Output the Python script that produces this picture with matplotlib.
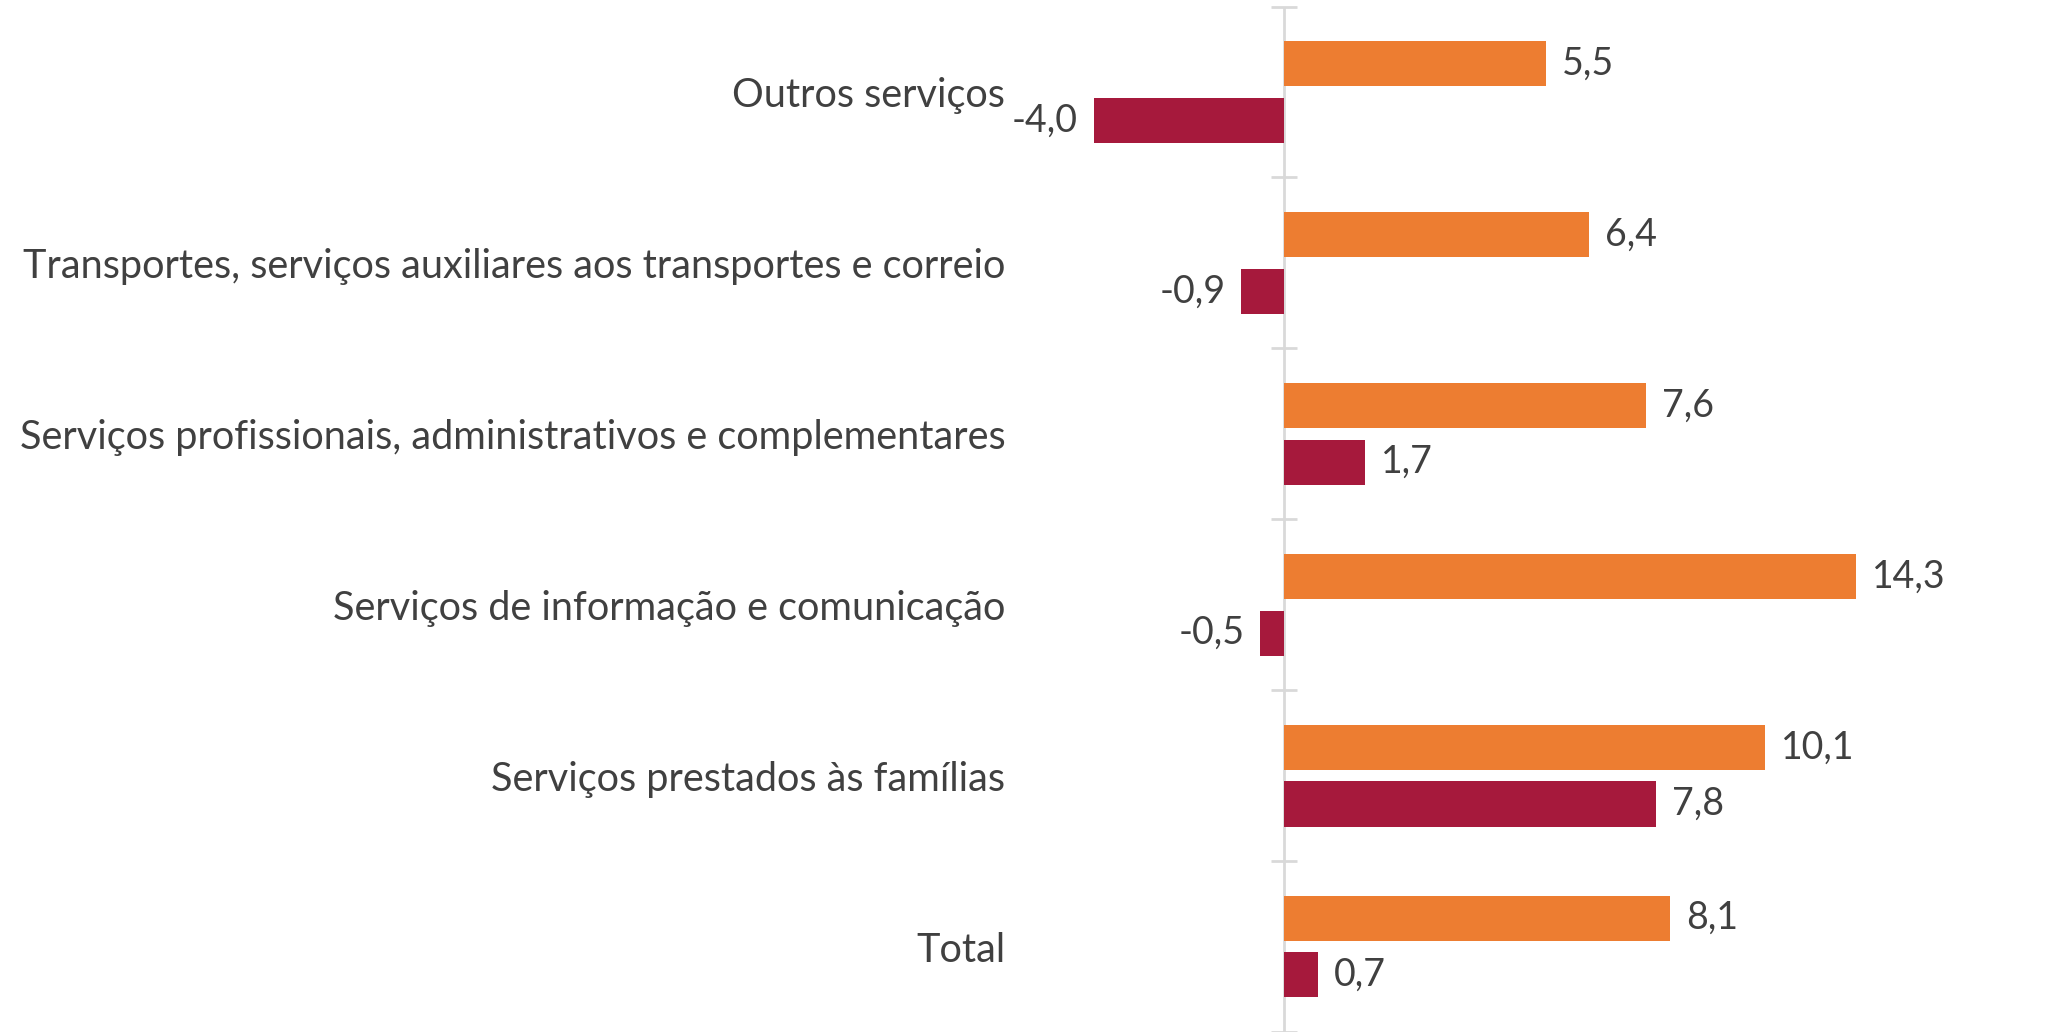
import numpy as np
import matplotlib
matplotlib.use("Agg")
import matplotlib.pyplot as plt

categories = [
    "Outros serviços",
    "Transportes, serviços auxiliares aos transportes e correio",
    "Serviços profissionais, administrativos e complementares",
    "Serviços de informação e comunicação",
    "Serviços prestados às famílias",
    "Total",
]
serie_laranja = [5.5, 6.4, 7.6, 14.3, 10.1, 8.1]
serie_vermelha = [-4.0, -0.9, 1.7, -0.5, 7.8, 0.7]

cor_laranja = "#ED7D31"
cor_vermelha = "#A6193C"
cor_texto = "#404040"
cor_eixo = "#D9D9D9"

plt.rcParams["font.family"] = ["Lato", "DejaVu Sans"]

W, H = 2072, 1032
fig = plt.figure(figsize=(W / 100, H / 100), dpi=100)

# Excel-like plot area: x from -5.8 to 12 (bars beyond 12 are clipped)
xmin, xmax = -5.8, 12
ax = fig.add_axes([1008 / W, 0.0, (1856 - 1008) / W, 1 - 6.6 / H])
ax.set_xlim(xmin, xmax)

y = np.arange(len(categories))
h = 0.264
off = 0.166

ax.barh(y - off, serie_laranja, height=h, color=cor_laranja, zorder=2)
ax.barh(y + off, serie_vermelha, height=h, color=cor_vermelha, zorder=2)

ax.set_ylim(len(categories) - 0.5, -0.5)

# vertical axis at zero with small cross ticks between categories
ax.axvline(0, color=cor_eixo, lw=2, zorder=1)
bounds = np.arange(len(categories) + 1) - 0.5
ax.hlines(bounds, -0.27, 0.27, color=cor_eixo, lw=2, zorder=1, clip_on=False)

for spine in ax.spines.values():
    spine.set_visible(False)
ax.set_xticks([])
ax.set_yticks(y)
ax.set_yticklabels(categories, fontsize=28.5, color=cor_texto)
ax.tick_params(axis="y", length=0, pad=2)

def fmt(v):
    return f"{v:.1f}".replace(".", ",")

for yy, v in zip(y - off, serie_laranja):
    xv = min(v, xmax)
    ax.annotate(fmt(v), (xv, yy), xytext=(11.5 if v >= 0 else -11.5, 0),
                textcoords="offset points", va="center",
                ha="left" if v >= 0 else "right", fontsize=27,
                color=cor_texto, annotation_clip=False)
for yy, v in zip(y + off, serie_vermelha):
    ax.annotate(fmt(v), (v, yy), xytext=(11.5 if v >= 0 else -11.5, 0),
                textcoords="offset points", va="center",
                ha="left" if v >= 0 else "right", fontsize=27,
                color=cor_texto, annotation_clip=False)

fig.savefig("out.png", dpi=100)
